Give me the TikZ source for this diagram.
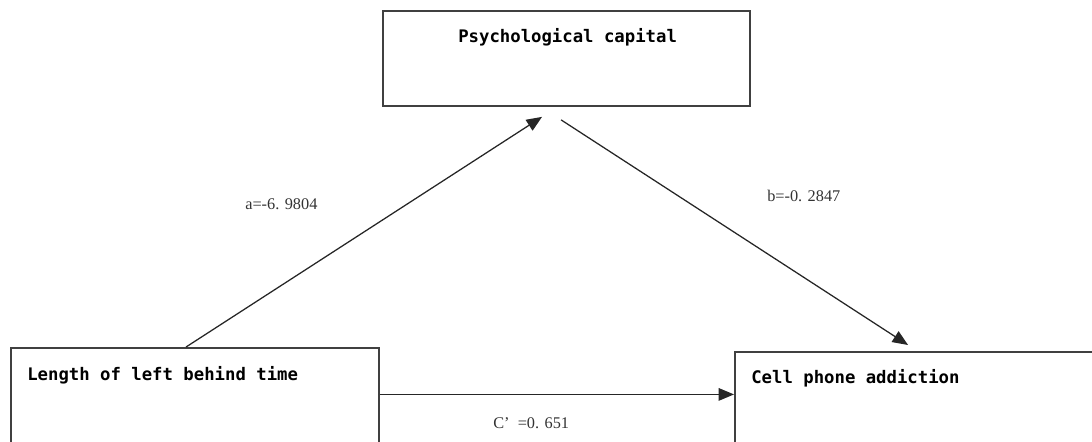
\documentclass[tikz,border=0pt]{standalone}
\usepackage{fontspec}
\setmainfont{Liberation Serif}
\newfontfamily\heifont{DejaVu Sans Mono}
\usetikzlibrary{arrows.meta}

\tikzset{
  varbox/.style={draw=black!75, line width=1.3pt, rectangle, anchor=north west, inner sep=0pt},
  pathline/.style={draw=black!85, line width=0.9pt, -{Triangle[length=11pt,width=9pt]}},
  vartext/.style={anchor=west, inner sep=0pt, font=\heifont\bfseries\fontsize{12.3}{14}\selectfont},
  coef/.style={anchor=west, inner sep=0pt, font=\fontsize{11.6}{13}\selectfont, text=black!80},
}

\begin{document}
\begin{tikzpicture}[x=0.025cm, y=-0.025cm]
\useasboundingbox (0,0) rectangle (1092,441);
\clip (0,0) rectangle (1092,441);

% the three variables
\node[varbox, minimum width=9.175cm, minimum height=2.375cm] (pbox) at (382,10) {};
\node[varbox, minimum width=9.2cm, minimum height=2.825cm] (lbox) at (10,347) {};
\node[varbox, minimum width=9.4cm, minimum height=2.725cm] (rbox) at (734,351) {};

\node[vartext] (ptext) at (458,37) {Psychological capital};
\node[vartext] (ltext) at (27,375) {Length of left behind time};
\node[vartext] (rtext) at (751,378) {Cell phone addiction};

% paths
\coordinate (afoot) at ([xshift=4.4cm]lbox.north west);
\coordinate (atip) at ([xshift=4.0cm,yshift=-0.25cm]pbox.south west);
\coordinate (bfoot) at ([xshift=4.475cm,yshift=-0.325cm]pbox.south west);
\coordinate (btip) at ([xshift=4.35cm,yshift=0.15cm]rbox.north west);
\coordinate (cfoot) at ([yshift=0.25cm]lbox.east);

\draw[pathline] (afoot) -- (atip);
\draw[pathline] (bfoot) -- (btip);
\draw[pathline] (cfoot) -- (cfoot -| rbox.west);

\node[coef] (alab) at (245,204) {a=-6. 9804};
\node[coef] (blab) at (767,196) {b=-0. 2847};
\node[coef] (clab) at (493,423) {C’\ \ =0. 651};
\end{tikzpicture}
\end{document}
